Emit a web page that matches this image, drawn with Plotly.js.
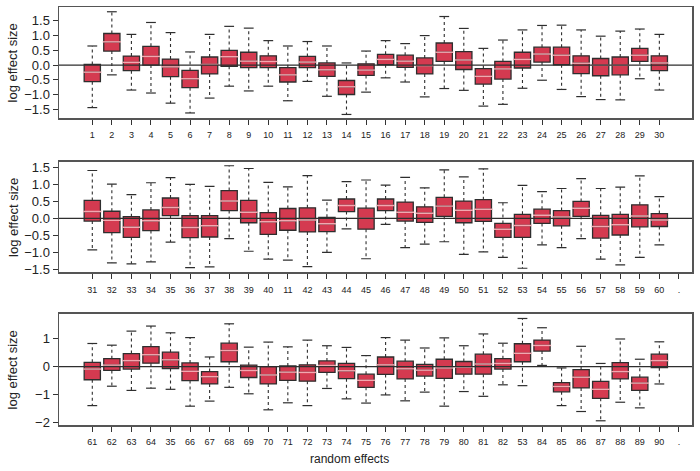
<!DOCTYPE html>
<html>
<head>
<meta charset="utf-8">
<script src="https://cdn.plot.ly/plotly-3.0.1.min.js"></script>
<style>html,body{margin:0;padding:0;background:#fff}#chart{width:700px;height:471px}</style>
</head>
<body>
<div id="chart"></div>
<script>
// ---- tick labels (as printed in the figure) ----
const labels1 = ['1','2','3','4','5','6','7','8','9','10','11','12','13','14','15','16','17','18','19','20','21','22','23','24','25','26','27','28','29','30'];
const labels2 = ['31','32','33','34','35','36','37','38','39','40','11','42','43','44','45','46','47','48','49','50','51','52','53','54','55','56','57','58','59','60'];
const labels3 = ['61','62','63','64','35','66','67','68','69','70','71','72','73','74','75','76','77','78','79','80','81','82','53','84','85','86','87','88','89','90'];
const extraLabel = '.';

// ---- panel 1 (random effects 1-30) ----
const p1Q3  = [0.02,1.06,0.30,0.63,0.20,-0.18,0.27,0.49,0.43,0.31,-0.09,0.29,0.07,-0.52,0.04,0.36,0.33,0.24,0.74,0.45,-0.12,0.12,0.43,0.60,0.60,0.31,0.22,0.27,0.56,0.31];
const p1Q1  = [-0.56,0.47,-0.19,0.00,-0.39,-0.76,-0.30,-0.04,-0.09,-0.09,-0.57,-0.09,-0.38,-0.99,-0.35,0.01,-0.08,-0.30,0.12,-0.15,-0.64,-0.47,-0.10,0.10,0.01,-0.29,-0.36,-0.33,0.12,-0.19];
const p1Med = [-0.24,0.78,0.09,0.29,-0.06,-0.46,0.02,0.28,0.13,0.12,-0.33,0.10,-0.16,-0.73,-0.17,0.19,0.13,-0.02,0.43,0.17,-0.38,-0.13,0.19,0.37,0.33,0.06,-0.01,-0.01,0.33,0.07];
const p1Hi  = [0.64,1.79,1.03,1.43,1.09,0.44,1.03,1.30,1.24,0.82,0.64,0.79,0.64,0.07,0.47,0.82,0.72,0.99,1.63,1.23,0.56,0.84,1.18,1.33,1.34,1.18,0.97,1.14,1.21,1.03];
const p1Lo  = [-1.43,-0.33,-0.84,-0.94,-1.28,-1.61,-1.11,-0.71,-0.87,-0.71,-1.20,-0.55,-1.05,-1.66,-0.91,-0.43,-0.57,-1.07,-0.79,-0.85,-1.38,-1.32,-0.78,-0.51,-0.82,-1.06,-1.16,-1.17,-0.46,-0.84];

// ---- panel 2 (random effects 31-60) ----
const p2Q3  = [0.53,0.21,0.05,0.25,0.60,0.08,0.08,0.82,0.53,0.17,0.29,0.31,0.03,0.57,0.30,0.57,0.48,0.34,0.62,0.51,0.55,-0.15,0.12,0.27,0.23,0.50,0.09,0.12,0.40,0.14];
const p2Q1  = [-0.08,-0.42,-0.56,-0.36,0.08,-0.57,-0.55,0.23,-0.13,-0.47,-0.35,-0.40,-0.39,0.20,-0.32,0.23,-0.08,-0.12,0.06,-0.13,-0.09,-0.56,-0.56,-0.15,-0.22,0.06,-0.58,-0.49,-0.25,-0.24];
const p2Med = [0.20,-0.06,-0.26,-0.07,0.32,-0.27,-0.22,0.51,0.18,-0.10,-0.07,-0.05,-0.16,0.38,0.00,0.38,0.18,0.15,0.36,0.24,0.27,-0.32,-0.21,0.09,0.04,0.30,-0.24,-0.19,0.07,-0.05];
const p2Hi  = [1.41,1.01,0.70,1.05,1.20,1.00,0.94,1.55,1.47,1.06,0.93,1.26,0.54,1.08,1.13,0.98,1.21,0.90,1.43,1.22,1.46,0.46,0.97,0.79,0.88,1.17,0.88,0.92,1.25,0.64];
const p2Lo  = [-0.93,-1.31,-1.34,-1.28,-0.70,-1.45,-1.43,-0.60,-0.97,-1.20,-1.23,-1.42,-1.00,-0.31,-1.19,-0.18,-0.86,-0.76,-0.69,-1.06,-0.99,-1.15,-1.47,-0.78,-0.86,-0.60,-1.20,-1.37,-1.15,-0.78];

// ---- panel 3 (random effects 61-90) ----
const p3Q3  = [0.15,0.28,0.46,0.71,0.51,0.13,-0.18,0.83,0.05,0.00,0.02,0.06,0.20,0.11,-0.27,0.34,0.19,0.08,0.26,0.18,0.44,0.28,0.81,0.94,-0.57,-0.11,-0.53,0.14,-0.38,0.44];
const p3Q1  = [-0.47,-0.14,-0.09,0.12,-0.07,-0.50,-0.62,0.17,-0.39,-0.62,-0.49,-0.52,-0.21,-0.43,-0.74,-0.28,-0.44,-0.34,-0.42,-0.27,-0.27,-0.09,0.17,0.55,-0.90,-0.76,-1.13,-0.44,-0.85,-0.04];
const p3Med = [-0.09,0.05,0.21,0.42,0.24,-0.17,-0.36,0.57,-0.14,-0.30,-0.20,-0.21,0.04,-0.15,-0.49,0.06,-0.08,-0.13,-0.05,-0.02,0.09,0.11,0.47,0.75,-0.71,-0.38,-0.81,-0.18,-0.59,0.21];
const p3Hi  = [0.82,0.76,1.26,1.44,1.20,1.03,0.34,1.52,0.69,0.87,0.70,0.94,0.74,0.68,0.39,1.03,0.94,0.66,1.02,0.74,1.16,0.83,1.71,1.38,-0.05,0.72,0.11,0.98,0.26,0.88];
const p3Lo  = [-1.39,-0.70,-0.85,-0.77,-0.81,-1.41,-1.23,-0.74,-0.97,-1.54,-1.29,-1.39,-0.78,-1.15,-1.30,-1.01,-1.22,-0.91,-1.41,-0.89,-1.06,-0.65,-0.68,0.04,-1.39,-1.60,-1.93,-1.27,-1.47,-0.62];

const FONT = 'Liberation Sans, Arial, Helvetica, sans-serif';
const NARROW = 'Liberation Sans Narrow, Liberation Sans, Arial, sans-serif';
const DARK = '#2e2e2e';

function panelTraces(ax, cats, q1, med, q3, lo, hi) {
  const xa = 'x' + ax, ya = 'y' + ax;
  const wx = [], wy = [];
  cats.forEach((c, i) => {
    wx.push(c, c, null, c, c, null);
    wy.push(q3[i], hi[i], null, q1[i], lo[i], null);
  });
  return [
    {type: 'scatter', mode: 'lines', x: wx, y: wy, xaxis: xa, yaxis: ya,
     line: {color: DARK, width: 1.1, dash: '3px,3px'}, hoverinfo: 'skip', showlegend: false},
    {type: 'scatter', mode: 'markers', x: cats.concat(cats), y: hi.concat(lo), xaxis: xa, yaxis: ya,
     marker: {symbol: 'line-ew', size: 7, color: DARK, line: {color: DARK, width: 1.2}},
     hoverinfo: 'skip', showlegend: false},
    {type: 'box', x: cats, q1: q1, median: med, q3: q3, lowerfence: q1, upperfence: q3,
     xaxis: xa, yaxis: ya, width: 0.83, boxpoints: false,
     fillcolor: '#d43a50', line: {color: DARK, width: 1.3}, hoverinfo: 'skip', showlegend: false},
    {type: 'scatter', mode: 'markers', x: cats, y: med, xaxis: xa, yaxis: ya,
     marker: {symbol: 'line-ew', size: 13, color: '#f2a8b0', line: {color: '#f2a8b0', width: 1.4}},
     hoverinfo: 'skip', showlegend: false}
  ];
}

const data = [].concat(
  panelTraces('', labels1, p1Q1, p1Med, p1Q3, p1Lo, p1Hi),
  panelTraces('2', labels2, p2Q1, p2Med, p2Q3, p2Lo, p2Hi),
  panelTraces('3', labels3, p3Q1, p3Med, p3Q3, p3Lo, p3Hi)
);

function xAxis(anchor, cats) {
  return {
    anchor: anchor, domain: [0, 1], type: 'category',
    categoryorder: 'array', categoryarray: cats,
    range: [-1.703, 30.67], showgrid: false, zeroline: false,
    showline: true, mirror: true, linecolor: '#555', linewidth: 1.5,
    ticks: 'outside', ticklen: 5, tickwidth: 1, tickcolor: '#333',
    ticklabelstandoff: 3,
    tickfont: {family: NARROW, size: 9, color: '#222'}, fixedrange: true
  };
}
function yAxis(anchor, dom, range, dtick, fmt) {
  return {
    anchor: anchor, domain: dom, range: range, dtick: dtick, tick0: 0,
    tickformat: fmt, showgrid: false, zeroline: false,
    showline: true, mirror: true, linecolor: '#555', linewidth: 1.5,
    ticks: 'outside', ticklen: 5, tickwidth: 1, tickcolor: '#333',
    tickfont: {family: FONT, size: 13, color: '#222'}, fixedrange: true
  };
}

const zeroShape = (ax) => ({type: 'line', xref: 'x' + ax + ' domain', yref: 'y' + ax,
  x0: 0, x1: 1, y0: 0, y1: 0, line: {color: DARK, width: 1.2}, layer: 'above'});

const yTitle = (ax) => ({text: 'log effect size', textangle: -90, showarrow: false,
  xref: 'paper', x: -0.0727, xanchor: 'center', yref: 'y' + ax + ' domain', y: 0.5, yanchor: 'middle',
  font: {family: FONT, size: 13, color: '#222'}});

const layout = {
  width: 700, height: 471,
  margin: {l: 59, r: 8, t: 7, b: 46},
  paper_bgcolor: '#fff', plot_bgcolor: '#fff',
  showlegend: false,
  xaxis: xAxis('y', labels1),
  xaxis2: xAxis('y2', labels2.concat([extraLabel])),
  xaxis3: xAxis('y3', labels3.concat([extraLabel])),
  yaxis: yAxis('x', [0.7344, 1], [-1.78, 1.95], 0.5, '.1f'),
  yaxis2: yAxis('x2', [0.3653, 0.6299], [-1.59, 1.67], 0.5, '.1f'),
  yaxis3: yAxis('x3', [0, 0.2656], [-2.08, 1.87], 1, 'd'),
  shapes: [zeroShape(''), zeroShape('2'), zeroShape('3')],
  annotations: [
    yTitle(''), yTitle('2'), yTitle('3'),
    {text: 'random effects', showarrow: false, xref: 'paper', x: 0.4597, xanchor: 'center',
     yref: 'paper', y: -0.0813, yanchor: 'middle', font: {family: NARROW, size: 12, color: '#222'}}
  ]
};

Plotly.newPlot('chart', data, layout, {displayModeBar: false, staticPlot: true});
</script>
</body>
</html>
